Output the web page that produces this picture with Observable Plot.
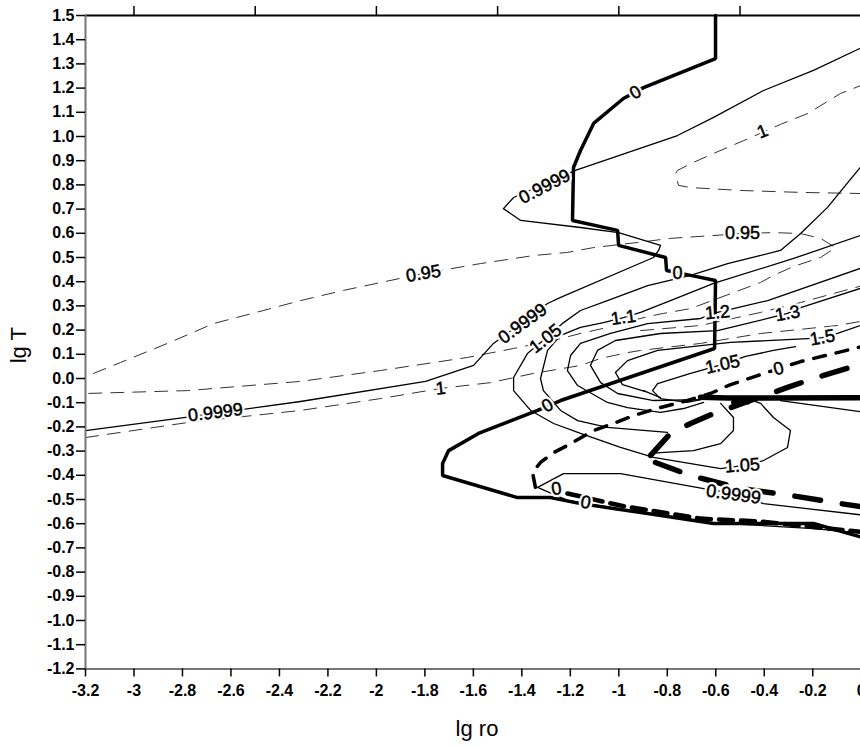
<!DOCTYPE html>
<html><head><meta charset="utf-8">
<script src="https://cdn.jsdelivr.net/npm/d3@7"></script>
<script src="https://cdn.jsdelivr.net/npm/@observablehq/plot@0.6"></script>
<style>
html,body{margin:0;padding:0;background:#fff;overflow:hidden;width:860px;height:746px}
#chart svg{max-width:none !important;display:block;background:#fff}
</style></head><body><div id="chart"></div>
<script>
// axis ticks
const xTicks = [-3.2,-3,-2.8,-2.6,-2.4,-2.2,-2,-1.8,-1.6,-1.4,-1.2,-1,-0.8,-0.6,-0.4,-0.2,0];
const yTicks = [1.5,1.4,1.3,1.2,1.1,1.0,0.9,0.8,0.7,0.6,0.5,0.4,0.3,0.2,0.1,0.0,-0.1,-0.2,-0.3,-0.4,-0.5,-0.6,-0.7,-0.8,-0.9,-1.0,-1.1,-1.2];
const topTicks = [-3,-2.5,-2,-1.5,-1,-0.5,0];

// thin solid contours [lg ro, lg T]
const c0999 = [[-3.2,-0.215],[-2.787,-0.161],[-2.313,-0.095],[-1.797,-0.012],[-1.599,0.054],[-1.517,0.145],[-1.294,0.310],[-1.240,0.335],[-0.857,0.500],[-0.836,0.529],[-0.828,0.550],[-1.001,0.603],[-1.158,0.624],[-1.405,0.653],[-1.476,0.702],[-1.434,0.748],[-1.179,0.860],[-0.758,1.004],[-0.609,1.079],[-0.403,1.190],[-0.197,1.273],[0.02,1.376]];
const c105 = [[0.02,0.901],[-0.065,0.798],[-0.139,0.707],[-0.250,0.599],[-0.333,0.529],[-0.551,0.475],[-0.704,0.426],[-0.881,0.384],[-1.047,0.322],[-1.158,0.281],[-1.228,0.231],[-1.302,0.165],[-1.377,0.103],[-1.434,0.004],[-1.434,-0.050],[-1.364,-0.132],[-1.269,-0.186],[-1.158,-0.227],[-0.993,-0.285],[-0.857,-0.326],[-0.580,-0.372],[-0.490,-0.360],[-0.403,-0.339],[-0.304,-0.285],[-0.292,-0.215],[-0.362,-0.161],[-0.415,-0.103],[-0.469,-0.083]];
const c11 = [[0.02,0.599],[-0.279,0.496],[-0.609,0.393],[-0.787,0.322],[-0.910,0.273],[-0.981,0.252],[-1.063,0.231],[-1.158,0.211],[-1.240,0.178],[-1.294,0.116],[-1.323,0.000],[-1.311,-0.050],[-1.240,-0.132],[-1.170,-0.174],[-1.047,-0.202],[-0.799,-0.223]];
const c12 = [[0.02,0.463],[-0.386,0.322],[-0.510,0.293],[-0.593,0.273],[-0.663,0.248],[-0.881,0.227],[-1.034,0.186],[-1.158,0.145],[-1.199,0.095],[-1.212,0.033],[-1.170,-0.029],[-1.047,-0.099],[-0.964,-0.120],[-0.828,-0.140],[-0.733,-0.124],[-0.650,-0.099]];
const c13 = [[0.02,0.380],[-0.250,0.293],[-0.304,0.269],[-0.386,0.248],[-0.593,0.198],[-0.828,0.186],[-1.014,0.157],[-1.088,0.116],[-1.117,0.054],[-1.075,-0.017],[-1.005,-0.062],[-0.857,-0.091],[-0.663,-0.087]];
const c15 = [[0.02,0.227],[-0.098,0.186],[-0.160,0.169],[-0.221,0.165],[-0.539,0.149],[-0.840,0.116],[-0.964,0.074],[-1.014,0.025],[-0.985,-0.025],[-0.890,-0.054]];
const c105in = [[-0.271,0.132],[-0.362,0.116],[-0.477,0.091],[-0.572,0.058],[-0.704,0.021],[-0.840,-0.021],[-0.861,-0.050],[-0.828,-0.083],[-0.717,-0.099],[-0.622,-0.079]];
const cLoop = [[-0.580,-0.103],[-0.527,-0.161],[-0.527,-0.215],[-0.580,-0.269],[-0.692,-0.298],[-0.828,-0.306],[-0.869,-0.310]];
const c0999low = [[-1.335,-0.450],[-1.228,-0.393],[-0.993,-0.393],[-0.650,-0.455],[-0.527,-0.475],[-0.403,-0.517],[0.02,-0.566]];
const cBottom = [[-1.335,-0.450],[-1.212,-0.504],[-0.881,-0.558],[-0.634,-0.595],[-0.197,-0.620],[0.02,-0.640]];
const cRight = [[-0.333,-0.091],[0.02,-0.140]];
const cTick = [[-0.898,-0.050],[-0.828,-0.079]];

// thin dashed contours
const d095 = [[-3.167,0.021],[-3.056,0.066],[-2.862,0.145],[-2.672,0.227],[-2.466,0.281],[-2.313,0.322],[-2.136,0.364],[-1.806,0.434],[-1.570,0.475],[-1.352,0.508],[-1.212,0.521],[-1.104,0.541],[-0.923,0.562],[-0.787,0.579],[-0.490,0.599],[-0.362,0.603],[-0.250,0.599],[-0.168,0.579],[-0.106,0.541],[-0.168,0.500],[-0.279,0.463],[-0.362,0.426],[-0.415,0.397],[-0.527,0.355],[-0.704,0.289],[-0.816,0.269],[-0.881,0.256],[-1.047,0.211],[-1.158,0.186],[-1.240,0.165],[-1.434,0.124],[-1.624,0.087],[-1.983,0.033],[-2.313,-0.012],[-2.779,-0.050],[-3.2,-0.062]];
const d1low = [[-3.2,-0.244],[-2.779,-0.182],[-2.313,-0.132],[-1.983,-0.083],[-1.735,-0.041],[-1.529,-0.017],[-1.352,0.021],[-1.158,0.054],[-1.075,0.083],[-0.964,0.107],[-0.910,0.116],[-0.663,0.145],[-0.415,0.186],[-0.098,0.219],[0.02,0.240]];
const d1mid = [[-0.910,0.198],[-0.663,0.219],[-0.415,0.273],[-0.250,0.314],[0.02,0.388]];
const d1top = [[0.02,1.219],[-0.085,1.178],[-0.221,1.095],[-0.333,1.050],[-0.407,1.017],[-0.485,0.983],[-0.609,0.930],[-0.692,0.893],[-0.758,0.860],[-0.766,0.847],[-0.754,0.798],[-0.704,0.789],[-0.498,0.777],[-0.250,0.769],[0.02,0.764]];

// thick "0" contours
const zeroLine = [[-0.601,1.5],[-0.601,1.322],[-0.898,1.202],[-0.981,1.157],[-1.104,1.054],[-1.158,0.942],[-1.187,0.872],[-1.191,0.653],[-1.005,0.612],[-1.001,0.550],[-0.807,0.500],[-0.803,0.446],[-0.704,0.426],[-0.601,0.405],[-0.605,0.124],[-1.240,-0.091],[-1.335,-0.132],[-1.579,-0.227],[-1.702,-0.298],[-1.727,-0.351],[-1.727,-0.401],[-1.418,-0.492],[-1.282,-0.492],[-1.158,-0.517],[-1.022,-0.537],[-0.881,-0.558],[-0.609,-0.599],[-0.197,-0.599],[0.02,-0.661]];
const zeroBar = [[-0.663,-0.077],[-0.55,-0.081],[0.02,-0.079]];
const zeroBlob = [[-0.527,-0.099],[-0.469,-0.097]];
const z1 = [[-1.344,-0.450],[-1.356,-0.388],[-1.323,-0.347],[-1.269,-0.306],[-1.212,-0.277],[-1.104,-0.215],[-1.022,-0.186],[-0.939,-0.153],[-0.828,-0.120],[-0.717,-0.091],[-0.622,-0.062],[-0.539,-0.025],[-0.428,0.012],[-0.341,0.041],[-0.250,0.070],[-0.098,0.107],[0.02,0.136]];
const z2 = [[-0.869,-0.318],[-0.787,-0.227],[-0.704,-0.186],[-0.609,-0.145],[-0.457,-0.091],[-0.304,-0.037],[-0.197,0.000],[0.02,0.066]];
const z3 = [[-0.849,-0.347],[-0.704,-0.401],[-0.498,-0.455],[-0.292,-0.483],[-0.085,-0.517],[0.02,-0.533]];
const z4 = [[-1.212,-0.475],[-0.993,-0.525],[-0.663,-0.579],[-0.415,-0.591],[0.02,-0.636]];

// contour labels
const labelText = ["0.9999","0.95","1","0.9999","0.9999","1.05","0","1","0.95","0","1.1","1.2","1.3","1.5","1.05","0","0","1.05","0.9999","0","0"];
const labelX = [-2.664,-1.806,-1.735,-1.397,-1.306,-1.302,-0.931,-0.407,-0.490,-0.758,-0.981,-0.593,-0.304,-0.160,-0.572,-0.341,-1.294,-0.490,-0.527,-1.257,-1.137];
const labelY = [-0.140,0.434,-0.041,0.227,0.793,0.165,1.182,1.021,0.599,0.434,0.252,0.273,0.269,0.169,0.058,0.041,-0.112,-0.360,-0.479,-0.455,-0.512];
const labelAngle = [-7,-9,-6,-36,-27,-38,-30,-22,0,0,-8,-5,-10,-10,-12,-15,-30,-4,8,-10,10];

const labels = labelText.map((t,i)=>({t, x:labelX[i], y:labelY[i], a:labelAngle[i]}));
const px = d => d[0], py = d => d[1];
const thin = (arr) => Plot.line(arr, {x:px, y:py, stroke:"#000", strokeWidth:1.3});
const dashed = (arr) => Plot.line(arr, {x:px, y:py, stroke:"#333", strokeWidth:1, strokeDasharray:"13,9"});

const chart = Plot.plot({
  width: 880, height: 746,
  marginLeft: 85, marginRight: 12, marginTop: 15, marginBottom: 77.6,
  style: {fontFamily: "'Liberation Sans', Arial, sans-serif", background: "#fff", color: "#000"},
  x: {domain: [-3.2, 0.03], axis: null},
  y: {domain: [-1.2, 1.5], axis: null},
  marks: [
    ...[d095, d1low, d1mid, d1top].map(dashed),
    ...[c0999, c105, c11, c12, c13, c15, c105in, cLoop, c0999low, cBottom, cRight, cTick].map(thin),
    Plot.line(zeroLine, {x:px, y:py, stroke:"#000", strokeWidth:3.5, strokeLinejoin:"miter"}),
    Plot.line(zeroBar, {x:px, y:py, stroke:"#000", strokeWidth:5.5}),
    Plot.line(zeroBlob, {x:px, y:py, stroke:"#000", strokeWidth:5, strokeLinecap:"round"}),
    Plot.line(z1, {x:px, y:py, stroke:"#000", strokeWidth:3.5, strokeDasharray:"12,11"}),
    Plot.line(z2, {x:px, y:py, stroke:"#000", strokeWidth:5.5, strokeDasharray:"26,22", strokeLinecap:"round"}),
    Plot.line(z3, {x:px, y:py, stroke:"#000", strokeWidth:5.5, strokeDasharray:"26,22", strokeLinecap:"round"}),
    Plot.line(z4, {x:px, y:py, stroke:"#000", strokeWidth:4.5, strokeDasharray:"14,8", strokeLinecap:"round"}),
    // label halo, then label text (slightly emboldened)
    Plot.text(labels, {x:"x", y:"y", text:"t", rotate:"a", fontSize:18, fill:"#fff", stroke:"#fff", strokeWidth:5}),
    Plot.text(labels, {x:"x", y:"y", text:"t", rotate:"a", fontSize:18, fill:"#000", stroke:"#000", strokeWidth:0.5}),
    // frame
    Plot.ruleY([1.5], {stroke:"#000", strokeWidth:2}),
    Plot.ruleX([-3.2], {stroke:"#777", strokeWidth:2}),
    Plot.ruleY([-1.2], {stroke:"#777", strokeWidth:2}),
    // axes
    Plot.axisY({ticks: yTicks, tickFormat: d => d.toFixed(1), tickSize: 9, tickPadding: 2, fontSize: 16, fontWeight: "bold", color:"#000", strokeWidth: 1.5, label: null}),
    Plot.axisX({anchor: "bottom", ticks: xTicks, tickFormat: d => String(d), tickSize: 8, tickPadding: 8, fontSize: 16, fontWeight: "bold", color:"#000", strokeWidth: 1.5, label: null}),
    Plot.axisX({anchor: "top", ticks: topTicks, tickFormat: () => "", tickSize: 10, color:"#000", strokeWidth: 1.5, label: null}),
    Plot.text(["lg ro"], {text: d => d, frameAnchor: "bottom", dy: 60, fontSize: 22, lineAnchor: "middle", fill:"#000"}),
    Plot.text(["lg T"], {text: d => d, frameAnchor: "left", dx: -67, dy: 3, rotate: -90, fontSize: 22, lineAnchor: "middle", textAnchor: "middle", fill:"#000"})
  ]
});
document.getElementById("chart").appendChild(chart);
</script>
</body></html>
